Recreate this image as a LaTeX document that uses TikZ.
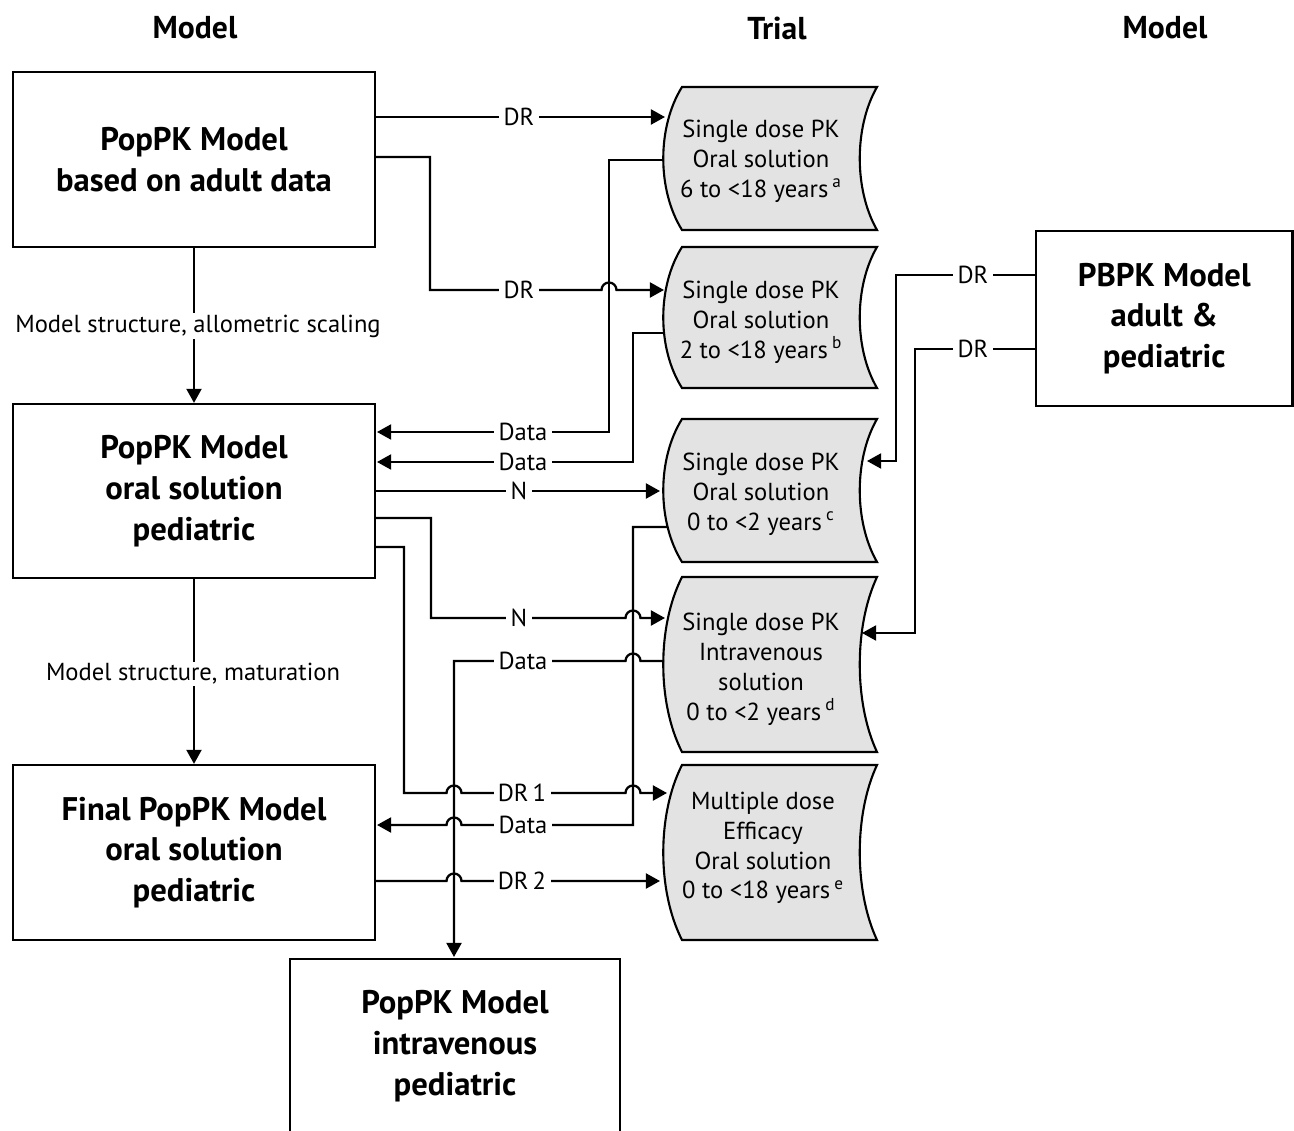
\documentclass[tikz,border=0pt]{standalone}
\usepackage{fontspec}
\setmainfont{PT Sans}
\usetikzlibrary{arrows.meta}
\tikzset{
  ln/.style={line width=1.3pt},
  arr/.style={line width=1.3pt,-{Triangle[length=8pt,width=8.5pt]}},
  modelbox/.style={draw,line width=1.3pt,align=center,font=\fontsize{18.6}{23.2}\selectfont\bfseries},
  boxtext/.style={align=center,font=\fontsize{18.6}{23.2}\selectfont\bfseries},
  hdr/.style={font=\fontsize{18}{22}\selectfont\bfseries},
  trialshape/.style={draw,line width=1.2pt,fill=black!11},
  trialtext/.style={align=center,font=\fontsize{14}{17}\selectfont},
  lbl/.style={fill=white,inner xsep=2.5pt,inner ysep=1pt,font=\fontsize{14}{17}\selectfont},
  hopup/.style={insert path={arc[start angle=180,end angle=0,radius=0.15cm]}},
  hopleft/.style={insert path={arc[start angle=0,end angle=180,radius=0.15cm]}}
}
\newcommand\trialoutline[2]{%
  \filldraw[trialshape] (682,#1) -- (877,#1)
    .. controls (854,{#1+0.28*(#2-#1)}) and (854,{#2-0.28*(#2-#1)}) .. (877,#2)
    -- (682,#2)
    .. controls (657,{#2-0.28*(#2-#1)}) and (657,{#1+0.28*(#2-#1)}) .. cycle;}
\begin{document}
\begin{tikzpicture}[x=0.02cm,y=-0.02cm]
\useasboundingbox (0,0) rectangle (1294,1131);

% headers
\node[hdr] (h1) at (195,28) {Model};
\node[hdr] (h2) at (777,28) {Trial};
\node[hdr] (h3) at (1165,28) {Model};

% model boxes
\node[modelbox,minimum width=7.24cm,minimum height=3.5cm] (A) at (194,159.5) {PopPK Model\\based on adult data};
\node[modelbox,minimum width=7.24cm,minimum height=3.48cm] (B) at (194,491) {PopPK Model\\oral solution\\pediatric};
\node[modelbox,minimum width=7.24cm,minimum height=3.5cm] (C) at (194,852.5) {Final PopPK Model\\oral solution\\pediatric};
\node[modelbox,minimum width=5.13cm,minimum height=3.5cm] (E) at (1164.25,318.5) {PBPK Model\\adult \&\\pediatric};
\draw[ln] (290,1131) -- (290,959) -- (620,959) -- (620,1131);
\node[boxtext] (D) at (455,1046) {PopPK Model\\intravenous\\pediatric};

% trial shapes
\trialoutline{87}{230}
\trialoutline{247}{388}
\trialoutline{419}{562}
\trialoutline{577}{752}
\trialoutline{765}{940}
\node[trialtext] (s1) at (761,161) {Single dose PK\\Oral solution\\6 to <18 years\,\textsuperscript{a}};
\node[trialtext] (s2) at (761,322) {Single dose PK\\Oral solution\\2 to <18 years\,\textsuperscript{b}};
\node[trialtext] (s3) at (761,494) {Single dose PK\\Oral solution\\0 to <2 years\,\textsuperscript{c}};
\node[trialtext] (s4) at (761,669) {Single dose PK\\Intravenous\\solution\\0 to <2 years\,\textsuperscript{d}};
\node[trialtext] (s5) at (763,848) {Multiple dose\\Efficacy\\Oral solution\\0 to <18 years\,\textsuperscript{e}};

% vertical model arrows
\draw[arr] (A.south) -- (B.north);
\node[lbl] (l1) at (198,326) {Model structure, allometric scaling};
\draw[arr] (B.south) -- (C.north);
\node[lbl] (l2) at (193,674) {Model structure, maturation};

% connectors
\draw[arr] (375,117) -- (665,117);
\draw[arr] (375,157) -- (430,157) -- (430,290) -- (601.5,290) [hopup] -- (664,290);
\draw[arr] (664,160) -- (609,160) -- (609,432) -- (377,432);
\draw[arr] (664,333) -- (633,333) -- (633,462) -- (377,462);
\draw[arr] (375,491) -- (660,491);
\draw[arr] (375,518) -- (431,518) -- (431,618) -- (625.5,618) [hopup] -- (665,618);
\draw[arr] (375,547) -- (404,547) -- (404,793) -- (446.5,793) [hopup] -- (625.5,793) [hopup] -- (667,793);
\draw[arr] (667,527) -- (633,527) -- (633,825) -- (461.5,825) [hopleft] -- (377,825);
\draw[arr] (664,661) -- (640.5,661) [hopleft] -- (454,661) -- (454,957);
\draw[arr] (375,881) -- (446.5,881) [hopup] -- (660,881);
\draw[arr] (1036,275) -- (896,275) -- (896,461) -- (867,461);
\draw[arr] (1036,349) -- (915,349) -- (915,633) -- (862,633);

% labels
\node[lbl] (d1) at (519,117) {DR};
\node[lbl] (d2) at (519,290) {DR};
\node[lbl] (d3) at (523,432) {Data};
\node[lbl] (d4) at (523,462) {Data};
\node[lbl] (d5) at (519,491) {N};
\node[lbl] (d6) at (519,618) {N};
\node[lbl] (d7) at (523,661) {Data};
\node[lbl] (d8) at (522,793) {DR\,1};
\node[lbl] (d9) at (523,825) {Data};
\node[lbl] (d10) at (522,881) {DR\,2};
\node[lbl] (d11) at (973,275) {DR};
\node[lbl] (d12) at (973,349) {DR};
\end{tikzpicture}
\end{document}
